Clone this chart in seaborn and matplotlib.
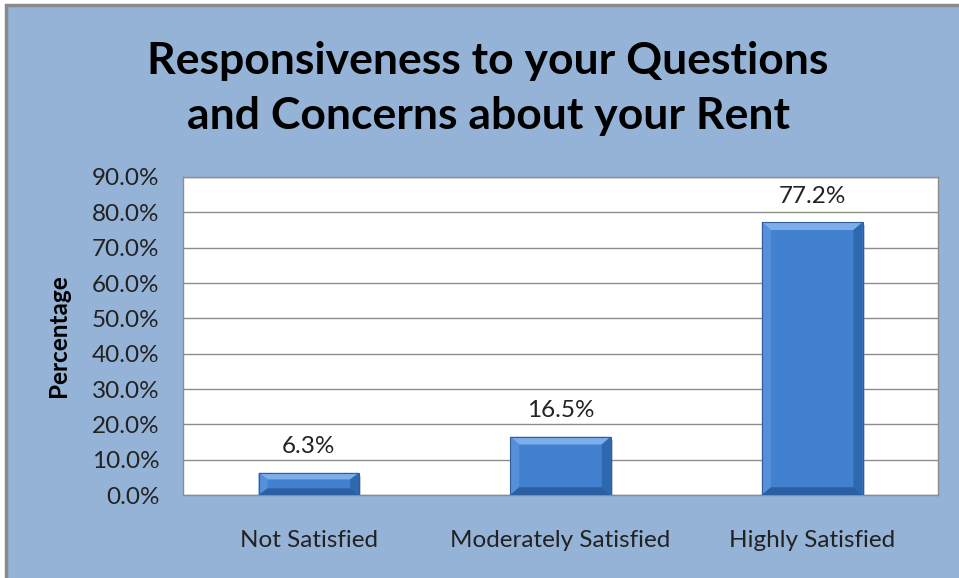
import matplotlib
matplotlib.use("Agg")
import matplotlib.pyplot as plt
import seaborn as sns
import pandas as pd
from matplotlib.patches import Rectangle, Polygon
from matplotlib.ticker import FuncFormatter, MultipleLocator

categories = ["Not Satisfied", "Moderately Satisfied", "Highly Satisfied"]
values = [6.3, 16.5, 77.2]
title_lines = ["Responsiveness to your Questions", "and Concerns about your Rent"]

sns.set_theme(style="white")
plt.rcParams["font.family"] = ["Lato", "DejaVu Sans"]

W, H = 959, 578
fig = plt.figure(figsize=(W / 100, H / 100), dpi=100)
fig.patch.set_facecolor("white")

# chart area panel with grey frame (right and bottom edges run off the canvas)
bg = Rectangle((6 / W, -0.1), 1.1, 1.1 - 5 / H, transform=fig.transFigure,
               facecolor="#95B3D7", edgecolor="#8A8A8A", linewidth=2.5, zorder=-5)
fig.patches.append(bg)

ax = fig.add_axes([183 / W, 1 - 495 / H, (938 - 183) / W, (495 - 177) / H])
ax.set_facecolor("white")

df = pd.DataFrame({"category": categories, "value": values})
sns.barplot(data=df, x="category", y="value", color="#4281CF", width=0.4,
            saturation=1, edgecolor="none", ax=ax, zorder=3)

# bevel shading on each bar
for p in ax.patches:
    x0, y0 = p.get_x(), p.get_y()
    w, h = p.get_width(), p.get_height()
    b = w * 0.09
    by = min(h * 0.3, 2.2)
    # drop shadow
    ax.add_patch(Rectangle((x0 + w * 0.02, y0 - 0.8), w, h, facecolor="#6F7F96",
                           alpha=0.35, edgecolor="none", zorder=2))
    # top facet (lighter)
    ax.add_patch(Polygon([(x0, y0 + h), (x0 + w, y0 + h), (x0 + w - b, y0 + h - by),
                          (x0 + b, y0 + h - by)], closed=True,
                         facecolor="#7DAEE9", edgecolor="none", zorder=4))
    # left facet
    ax.add_patch(Polygon([(x0, y0), (x0, y0 + h), (x0 + b, y0 + h - by), (x0 + b, y0 + by)],
                         closed=True, facecolor="#5690DA", edgecolor="none", zorder=4))
    # right facet (darker)
    ax.add_patch(Polygon([(x0 + w, y0), (x0 + w, y0 + h), (x0 + w - b, y0 + h - by),
                          (x0 + w - b, y0 + by)], closed=True,
                         facecolor="#3068B0", edgecolor="none", zorder=4))
    # bottom facet
    ax.add_patch(Polygon([(x0, y0), (x0 + w, y0), (x0 + w - b, y0 + by), (x0 + b, y0 + by)],
                         closed=True, facecolor="#2C5FA2", edgecolor="none", zorder=4))
    ax.add_patch(Rectangle((x0, y0), w, h, facecolor="none", edgecolor="#2D5F9F",
                           linewidth=0.8, zorder=5))

for i, v in enumerate(values):
    ax.text(i, v + 7.3, f"{v:.1f}%", ha="center", va="center", fontsize=17.5,
            color="#222222", zorder=6)

ax.set_ylim(0, 90)
ax.set_xlim(-0.5, 2.5)
ax.yaxis.set_major_locator(MultipleLocator(10))
ax.yaxis.set_major_formatter(FuncFormatter(lambda v, _: f"{v:.1f}%"))
ax.yaxis.grid(True, color="#8C8C8C", linewidth=1.0, zorder=0)
ax.set_axisbelow(True)
for s in ax.spines.values():
    s.set_color("#8C8C8C")
    s.set_linewidth(1.0)
ax.tick_params(axis="y", labelsize=17.5, labelcolor="#222222", pad=17, length=0)
ax.tick_params(axis="x", labelsize=17.5, labelcolor="#222222", pad=25, length=0)
ax.set_xlabel("")
ax.set_ylabel("Percentage", fontsize=17.5, fontweight="bold", color="black")
ax.yaxis.set_label_coords(-0.15, 0.5)

fig.text(488 / W, 1 - 61 / H, title_lines[0], ha="center", va="center",
         fontsize=32, fontweight="bold", color="black")
fig.text(488 / W, 1 - 116 / H, title_lines[1], ha="center", va="center",
         fontsize=32, fontweight="bold", color="black")

fig.savefig("out.png", dpi=100, facecolor=fig.get_facecolor())
